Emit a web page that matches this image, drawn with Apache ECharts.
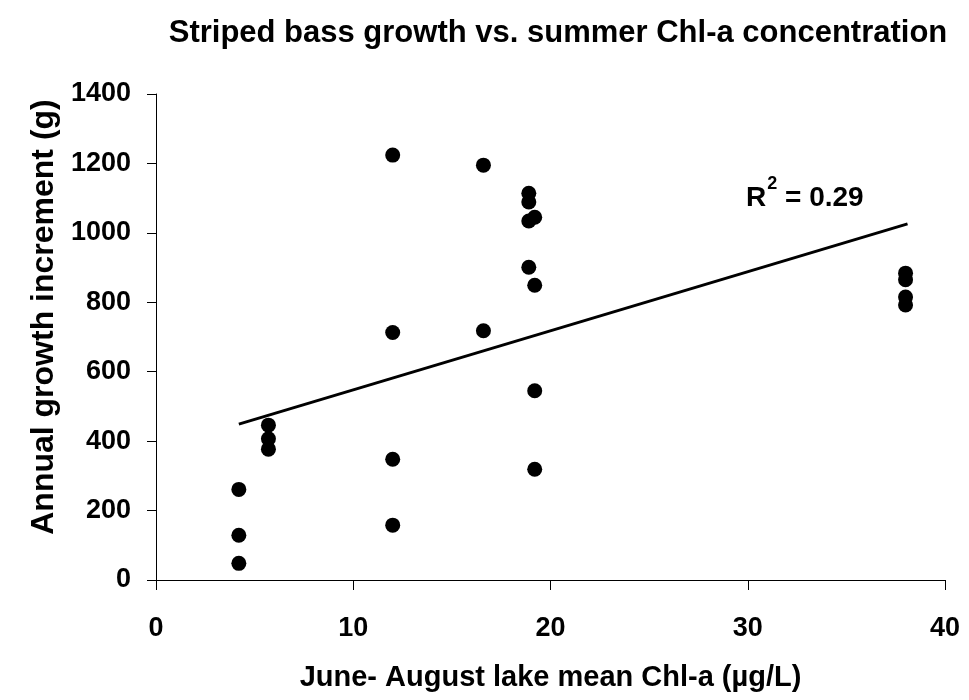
<!DOCTYPE html>
<html>
<head>
<meta charset="utf-8">
<script src="https://cdn.jsdelivr.net/npm/echarts@6/dist/echarts.min.js"></script>
<style>
  html, body { margin: 0; padding: 0; background: #fff; }
  #main { width: 969px; height: 700px; }
</style>
</head>
<body>
<div id="main"></div>
<script>
// chl-a (x) and growth increment (y)
let chl = [4.2, 4.2, 4.2, 5.7, 5.7, 5.7, 12.0, 12.0, 12.0, 12.0,
  16.6, 16.6, 18.9, 18.9, 19.2, 18.9, 18.9, 19.2, 19.2, 19.2,
  38.0, 38.0, 38.0, 38.0];
let growth = [261, 129, 48, 446, 407, 377, 1224, 713, 348, 158,
  1195, 718, 1114, 1089, 1045, 1034, 901, 849, 545, 319,
  884, 865, 815, 792];

// trend line end points
let trendX = [4.2, 38.1];
let trendY = [449, 1026];

let points = [];
for (let i = 0; i < chl.length; i++) {
  points.push([chl[i], growth[i]]);
}
let trend = [];
for (let i = 0; i < trendX.length; i++) {
  trend.push([trendX[i], trendY[i]]);
}

let font = '"Liberation Sans", Arial, sans-serif';

let chart = echarts.init(document.getElementById('main'));
let opt = {
  animation: false,
  backgroundColor: '#fff',
  title: {
    text: 'Striped bass growth vs. summer Chl-a concentration',
    left: 553,
    textAlign: 'center',
    top: 13,
    textStyle: { fontFamily: font, fontWeight: 'bold', fontSize: 31, color: '#000' }
  },
  grid: { left: 156, right: 24, top: 94, bottom: 120 },
  xAxis: {
    type: 'value',
    min: 0,
    max: 40,
    interval: 10,
    name: 'June- August lake mean Chl-a (µg/L)',
    nameLocation: 'middle',
    nameGap: 83,
    nameTextStyle: { fontFamily: font, fontWeight: 'bold', fontSize: 29, color: '#000' },
    axisLine: { lineStyle: { color: '#000', width: 1 } },
    axisTick: { inside: false, length: 10, lineStyle: { color: '#000' } },
    axisLabel: { fontFamily: font, fontWeight: 'bold', fontSize: 27, color: '#000', margin: 35 },
    splitLine: { show: false }
  },
  yAxis: {
    type: 'value',
    min: 0,
    max: 1400,
    interval: 200,
    name: 'Annual growth increment (g)',
    nameLocation: 'middle',
    nameGap: 96,
    nameTextStyle: { fontFamily: font, fontWeight: 'bold', fontSize: 32, color: '#000', padding: [0, 0, 0, 40] },
    axisLine: { show: true, lineStyle: { color: '#000', width: 1 } },
    axisTick: { show: true, length: 9, lineStyle: { color: '#000' } },
    axisLabel: {
      fontFamily: font, fontWeight: 'bold', fontSize: 27, color: '#000', margin: 25,
      formatter: function (v) { return String(v); }
    },
    splitLine: { show: false }
  },
  series: [
    {
      type: 'line',
      data: trend,
      showSymbol: false,
      lineStyle: { color: '#000', width: 3 },
      z: 1
    },
    {
      type: 'scatter',
      data: points,
      symbol: 'circle',
      symbolSize: 15,
      itemStyle: { color: '#000', opacity: 1 },
      z: 2
    }
  ],
  graphic: [
    {
      type: 'text',
      left: 746,
      top: 175,
      style: {
        text: '{b|R}{s|2}{b| = 0.29}',
        rich: {
          b: { fontFamily: font, fontWeight: 'bold', fontSize: 28, fill: '#000', verticalAlign: 'bottom', lineHeight: 37 },
          s: { fontFamily: font, fontWeight: 'bold', fontSize: 18, fill: '#000', verticalAlign: 'top', lineHeight: 37, padding: [0, 0, 14, 1] }
        }
      }
    }
  ]
};
chart.setOption(opt);
</script>
</body>
</html>
